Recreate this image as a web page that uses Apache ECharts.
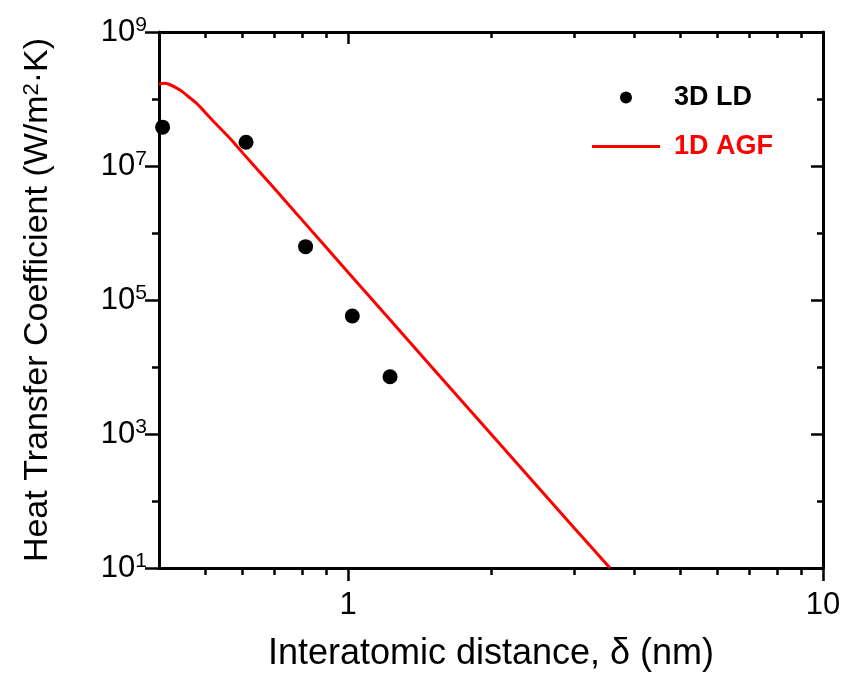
<!DOCTYPE html>
<html>
<head>
<meta charset="utf-8">
<script src="https://cdn.jsdelivr.net/npm/echarts@6/dist/echarts.min.js"></script>
<style>
  html, body { margin: 0; padding: 0; background: #fff; }
  #chart { width: 849px; height: 673px; }
</style>
</head>
<body>
<div id="chart"></div>
<script>
// Data
const ldX = [0.407, 0.610, 0.814, 1.021, 1.226];
const ldY = [3.8e7, 2.26e7, 6.25e5, 5.77e4, 7.16e3];

const agfX = [0.400, 0.410, 0.420, 0.443, 0.460, 0.480, 0.520, 0.564, 0.600, 0.700, 0.800, 1.00, 1.50, 2.00, 3.00, 3.56];
const agfY = [1.66e8, 1.72e8, 1.66e8, 1.36e8, 1.1e8, 8.6e7, 4.7e7, 2.59e7, 1.57e7, 4.6e6, 1.57e6, 2.6e5, 1.0e4, 1.0e3, 39, 10];

const xMajor = [1, 10];
const xMinor = [0.5, 0.6, 0.7, 0.8, 0.9, 2, 3, 4, 5, 6, 7, 8, 9];
const yMajor = [1e1, 1e3, 1e5, 1e7, 1e9];
const yMinor = [1e2, 1e4, 1e6, 1e8];

const FONT = '"Liberation Sans", Arial, sans-serif';

function zip(xs, ys) {
    return xs.map((x, i) => [x, ys[i]]);
}

function xAxisOf(position, values, len, inside, withLine, extra) {
    return Object.assign({
        type: 'log',
        position: position,
        min: 0.4,
        max: 10,
        axisLine: { show: withLine, onZero: false, lineStyle: { color: '#000', width: 3 } },
        axisTick: { show: true, inside: inside, length: len, customValues: values, lineStyle: { color: '#000', width: 2.5 } },
        axisLabel: { show: false },
        splitLine: { show: false },
        minorTick: { show: false }
    }, extra || {});
}

function yAxisOf(position, values, len, inside, withLine, extra) {
    return Object.assign({
        type: 'log',
        position: position,
        min: 1e1,
        max: 1e9,
        axisLine: { show: withLine, onZero: false, lineStyle: { color: '#000', width: 3 } },
        axisTick: { show: true, inside: inside, length: len, customValues: values, lineStyle: { color: '#000', width: 2.5 } },
        axisLabel: { show: false },
        splitLine: { show: false },
        minorTick: { show: false }
    }, extra || {});
}

const chart = echarts.init(document.getElementById('chart'));

const option = {
    backgroundColor: '#fff',
    animation: false,
    grid: { left: 159, right: 26, top: 32, bottom: 105, outerBoundsMode: 'none' },
    legend: {
        left: 587,
        top: 79,
        orient: 'vertical',
        itemWidth: 68,
        itemHeight: 12,
        itemGap: 22,
        symbolKeepAspect: true,
        textStyle: { fontFamily: FONT, fontSize: 27, fontWeight: 'bold', color: '#000', padding: [0, 0, 0, 9] },
        data: [
            { name: '3D LD', icon: 'circle' },
            { name: '1D AGF', icon: 'path://M0,0L68,0L68,3L0,3Z', textStyle: { color: '#ff0000' } }
        ]
    },
    xAxis: [
        xAxisOf('bottom', xMajor, 13, false, true, {
            name: 'Interatomic distance, δ (nm)',
            nameLocation: 'middle',
            nameGap: 68,
            nameTextStyle: { fontFamily: FONT, fontSize: 36, color: '#000' },
            axisLabel: {
                show: true,
                customValues: xMajor,
                margin: 22,
                fontFamily: FONT,
                fontSize: 31,
                color: '#000'
            }
        }),
        xAxisOf('bottom', xMinor, 7, false, false),
        xAxisOf('top', xMajor, 12, true, true),
        xAxisOf('top', xMinor, 6, true, false)
    ],
    yAxis: [
        yAxisOf('left', yMajor, 14, false, true, {
            name: 'Heat Transfer Coefficient (W/m{sup|2}·K)',
            nameLocation: 'middle',
            nameGap: 104,
            nameTextStyle: {
                fontFamily: FONT, fontSize: 34, color: '#000',
                rich: { sup: { fontFamily: FONT, fontSize: 22, color: '#000', verticalAlign: 'top', lineHeight: 34 } }
            },
            axisLabel: {
                show: true,
                customValues: yMajor,
                margin: 12,
                formatter: function (v) {
                    return '{b|10}{s|' + Math.round(Math.log10(v)) + '}';
                },
                rich: {
                    b: { fontFamily: FONT, fontSize: 31, color: '#000', lineHeight: 34 },
                    s: { fontFamily: FONT, fontSize: 21, color: '#000', verticalAlign: 'top', lineHeight: 20 }
                }
            }
        }),
        yAxisOf('left', yMinor, 7, false, false),
        yAxisOf('right', yMajor, 12, true, true),
        yAxisOf('right', yMinor, 6, true, false)
    ],
    series: [
        {
            name: '3D LD',
            type: 'scatter',
            xAxisIndex: 0,
            yAxisIndex: 0,
            symbol: 'circle',
            symbolSize: 15,
            itemStyle: { color: '#000', opacity: 1 },
            data: zip(ldX, ldY),
            z: 3
        },
        {
            name: '1D AGF',
            type: 'line',
            xAxisIndex: 0,
            yAxisIndex: 0,
            showSymbol: false,
            smooth: 0.3,
            lineStyle: { color: '#ff0000', width: 3 },
            itemStyle: { color: '#ff0000' },
            data: zip(agfX, agfY),
            z: 2
        }
    ]
};

chart.setOption(option);
</script>
</body>
</html>
